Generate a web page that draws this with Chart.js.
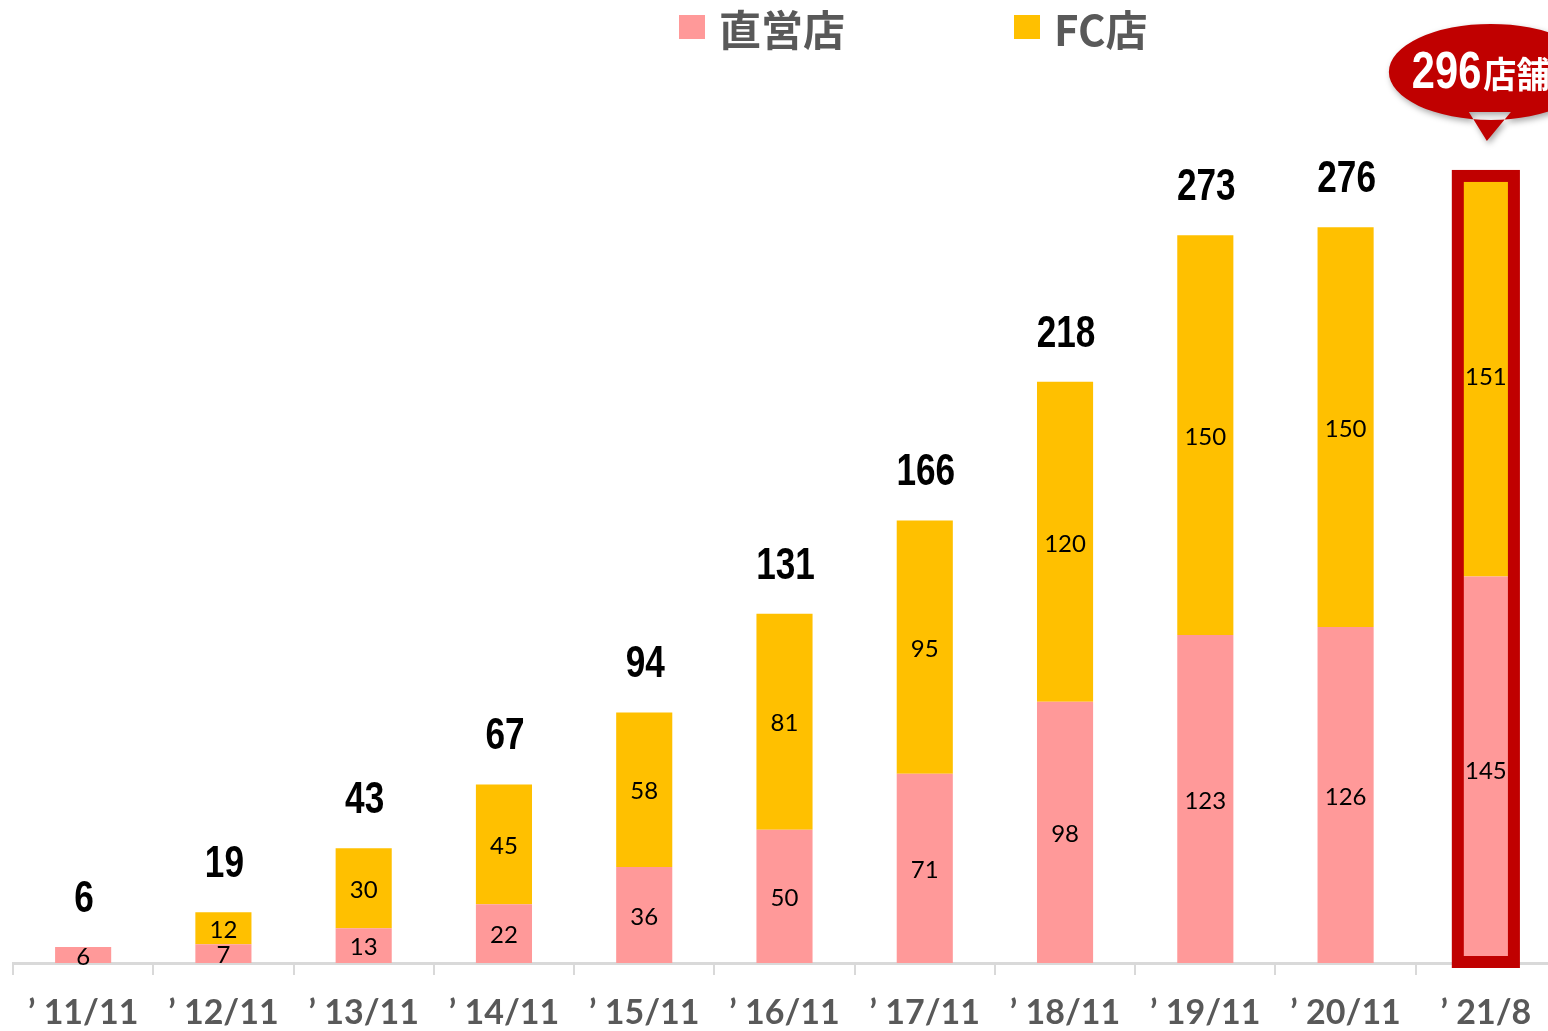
<!DOCTYPE html>
<html>
<head>
<meta charset="utf-8">
<script src="https://cdn.jsdelivr.net/npm/chart.js@4.4.1/dist/chart.umd.min.js"></script>
<style>
  html, body { margin:0; padding:0; background:#fff; overflow:hidden; }
  #wrap { width:1560px; height:1031px; position:relative; }
</style>
</head>
<body>
<div id="wrap"><canvas id="storeChart"></canvas></div>
<script>
// data
const periods = ['11/11','12/11','13/11','14/11','15/11','16/11','17/11','18/11','19/11','20/11','21/8'];
const directStores = [6, 7, 13, 22, 36, 50, 71, 98, 123, 126, 145];
const fcStores = [0, 12, 30, 45, 58, 81, 95, 120, 150, 150, 151];
const totals = [6, 19, 43, 67, 94, 131, 166, 218, 273, 276, 296];
const seriesNames = ['直営店', 'FC店'];
const calloutText = ['296', '店舗'];

const SANS = '"Liberation Sans", Arial, sans-serif';
const GRAY = '#595959';

// draw text squeezed horizontally, like a narrow face
function narrowText(ctx, text, x, y, squeeze) {
  ctx.save();
  ctx.translate(x, y);
  ctx.scale(squeeze, 1);
  ctx.fillText(text, 0, 0);
  ctx.restore();
}

const legendPlugin = {
  id: 'topLegend',
  afterDraw(chart) {
    const ctx = chart.ctx;
    const xs = [679, 1014];
    ctx.save();
    ctx.font = 'bold 42px "Noto Sans CJK JP", sans-serif';
    ctx.textAlign = 'left';
    ctx.textBaseline = 'middle';
    chart.data.datasets.forEach((ds, i) => {
      ctx.fillStyle = ds.backgroundColor;
      ctx.fillRect(xs[i], 15, 26, 24);
      ctx.fillStyle = GRAY;
      ctx.fillText(ds.label, xs[i] + 40, 30);
    });
    ctx.restore();
  }
};

const labelPlugin = {
  id: 'storeLabels',
  afterDatasetsDraw(chart) {
    const ctx = chart.ctx;
    const y = chart.scales.y;
    ctx.save();
    // segment values
    ctx.textAlign = 'center';
    ctx.textBaseline = 'middle';
    ctx.fillStyle = '#000';
    ctx.font = '24px Lato, sans-serif';
    chart.data.datasets.forEach((ds, i) => {
      chart.getDatasetMeta(i).data.forEach((bar, j) => {
        if (!ds.data[j]) return;
        ctx.fillText(ds.data[j], bar.x, (bar.y + bar.base) / 2 + 2);
      });
    });

    const bars = chart.getDatasetMeta(1).data;
    const last = bars.length - 1;

    // totals above the bars
    ctx.font = 'bold 44px ' + SANS;
    ctx.textBaseline = 'alphabetic';
    totals.forEach((t, j) => {
      if (j === last) return;
      narrowText(ctx, t, bars[j].x + 1, y.getPixelForValue(t) - 35, 0.8);
    });

    // highlight frame on latest bar
    const b = bars[last];
    const yTop = y.getPixelForValue(totals[last]);
    const yBot = y.getPixelForValue(0);
    ctx.strokeStyle = '#C00000';
    ctx.lineWidth = 12;
    ctx.strokeRect(b.x - b.width / 2, yTop + 2, b.width, yBot - yTop - 3);

    // callout bubble
    const cx = b.x + 5;
    const tipY = yTop - 33;
    const cy = tipY - 69;
    ctx.save();
    ctx.shadowColor = 'rgba(0,0,0,0.35)';
    ctx.shadowBlur = 6;
    ctx.shadowOffsetX = 2;
    ctx.shadowOffsetY = 3;
    ctx.fillStyle = '#C00000';
    ctx.beginPath();
    ctx.ellipse(cx, cy, 102, 48, 0, 0, Math.PI * 2);
    ctx.moveTo(cx - 22, cy + 40);
    ctx.lineTo(cx - 4, tipY);
    ctx.lineTo(cx + 20, cy + 40);
    ctx.closePath();
    ctx.fill();
    ctx.restore();

    ctx.fillStyle = '#fff';
    ctx.textAlign = 'left';
    ctx.font = 'bold 52px ' + SANS;
    const sq = 0.8;
    narrowText(ctx, calloutText[0], cx - 79, cy + 16, sq);
    const w = ctx.measureText(calloutText[0]).width * sq;
    ctx.font = 'bold 36px "Noto Sans CJK JP", sans-serif';
    narrowText(ctx, calloutText[1], cx - 79 + w + 2, cy + 16, 0.92);
    ctx.restore();
  }
};

new Chart(document.getElementById('storeChart').getContext('2d'), {
  type: 'bar',
  data: {
    labels: periods,
    datasets: [
      { label: seriesNames[0], data: directStores, backgroundColor: '#FF9999', barPercentage: 0.4, categoryPercentage: 1 },
      { label: seriesNames[1], data: fcStores, backgroundColor: '#FFC000', barPercentage: 0.4, categoryPercentage: 1 }
    ]
  },
  options: {
    responsive: true,
    maintainAspectRatio: false,
    animation: false,
    layout: { padding: { left: 13, right: 4, top: 30, bottom: 0 } },
    plugins: { legend: { display: false }, tooltip: { enabled: false } },
    scales: {
      x: {
        stacked: true,
        offset: true,
        border: { display: true, color: '#D9D9D9', width: 3 },
        grid: { display: true, offset: true, drawOnChartArea: false, drawTicks: true, tickLength: 12, color: '#D9D9D9', lineWidth: 2 },
        ticks: {
          color: GRAY,
          font: { family: 'Lato, sans-serif', size: 34, weight: 'bold' },
          padding: 18,
          maxRotation: 0,
          autoSkip: false,
          callback: function(v) { return '’ ' + this.getLabelForValue(v); }
        },
        afterFit(scale) { scale.height = 68; }
      },
      y: { stacked: true, display: false, min: 0, max: 350 }
    }
  },
  plugins: [legendPlugin, labelPlugin]
});
</script>
</body>
</html>
